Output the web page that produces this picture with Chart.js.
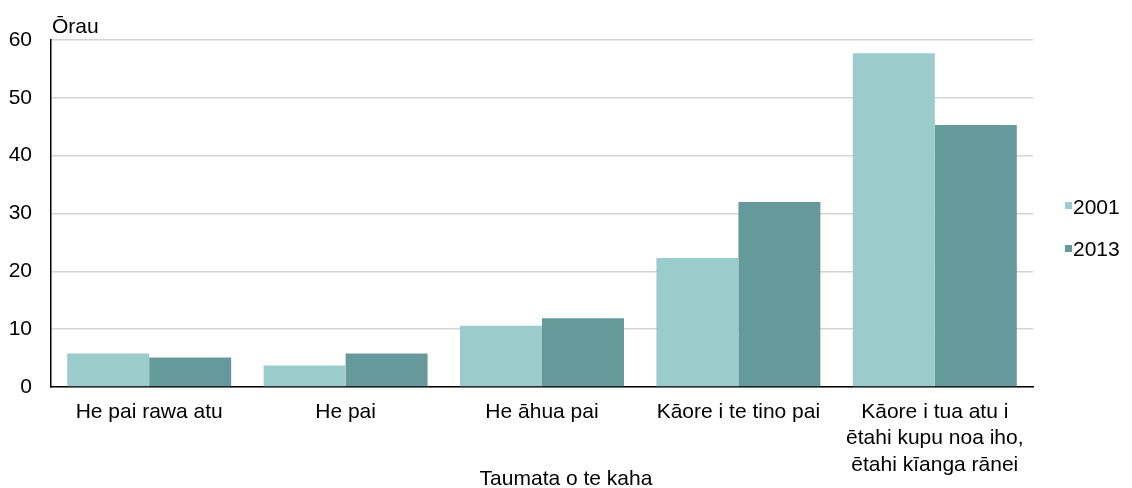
<!DOCTYPE html>
<html>
<head>
<meta charset="utf-8">
<script src="https://cdn.jsdelivr.net/npm/chart.js@4/dist/chart.umd.min.js"></script>
<style>
  html, body { margin: 0; padding: 0; background: #fff; }
  #wrap { width: 1132px; height: 488px; }
</style>
</head>
<body>
<div id="wrap"><canvas id="chart"></canvas></div>
<script>
const categories = [
  "He pai rawa atu",
  "He pai",
  "He āhua pai",
  "Kāore i te tino pai",
  ["Kāore i tua atu i", "ētahi kupu noa iho,", "ētahi kīanga rānei"]
];
const seriesNames = ["2001", "2013"];
const values2001 = [5.8, 3.7, 10.6, 22.3, 57.7];
const values2013 = [5.1, 5.8, 11.9, 32.0, 45.3];
const yTicks = [0, 10, 20, 30, 40, 50, 60];

const lightColor = "#9bcccc";
const darkColor = "#669999";
const font = "'Liberation Sans', Arial, sans-serif";
const fontSize = 21;

// axis titles and the legend are drawn by hand so they sit where the original has them
const extras = {
  id: "extras",
  afterDraw(chart) {
    const { ctx, chartArea } = chart;
    ctx.save();
    ctx.font = fontSize + "px " + font;
    ctx.fillStyle = "#000";

    ctx.textBaseline = "alphabetic";
    ctx.textAlign = "left";
    ctx.fillText("Ōrau", chartArea.left + 1, chartArea.top - 7);

    ctx.textAlign = "center";
    ctx.textBaseline = "middle";
    ctx.fillText("Taumata o te kaha", chart.width / 2, 479);

    const legendX = chartArea.right + 32;
    chart.data.datasets.forEach((ds, i) => {
      const cy = 208 + i * 42.5;
      ctx.fillStyle = ds.backgroundColor;
      ctx.fillRect(legendX, Math.round(cy - 6), 7, 7);
      ctx.fillStyle = "#000";
      ctx.textAlign = "left";
      ctx.textBaseline = "middle";
      ctx.fillText(ds.label, legendX + 8, cy);
    });
    ctx.restore();
  }
};

new Chart(document.getElementById("chart"), {
  type: "bar",
  data: {
    labels: categories,
    datasets: [
      {
        label: seriesNames[0],
        data: values2001,
        backgroundColor: lightColor,
        borderWidth: 0,
        categoryPercentage: 0.835,
        barPercentage: 1
      },
      {
        label: seriesNames[1],
        data: values2013,
        backgroundColor: darkColor,
        borderWidth: 0,
        categoryPercentage: 0.835,
        barPercentage: 1
      }
    ]
  },
  options: {
    responsive: true,
    maintainAspectRatio: false,
    animation: false,
    layout: { padding: { top: 40, left: 9, right: 99, bottom: 9 } },
    plugins: {
      tooltip: { enabled: false },
      legend: { display: false }
    },
    scales: {
      x: {
        afterFit(scale) { scale.height = 92; },
        grid: { display: false, drawTicks: false },
        border: { color: "#000", width: 1.5 },
        ticks: {
          color: "#000",
          padding: 12,
          maxRotation: 0,
          autoSkip: false,
          font: { family: font, size: fontSize, lineHeight: 1.26 }
        }
      },
      y: {
        min: 0,
        max: 60,
        afterFit(scale) { scale.width = 42; },
        afterBuildTicks(axis) {
          axis.ticks = yTicks.map(v => ({ value: v }));
        },
        grid: { color: "#d4d4d4", lineWidth: 1.5, drawTicks: false },
        border: { color: "#000", width: 1.5 },
        ticks: {
          color: "#000",
          padding: 19,
          font: { family: font, size: fontSize }
        }
      }
    }
  },
  plugins: [extras]
});
</script>
</body>
</html>
